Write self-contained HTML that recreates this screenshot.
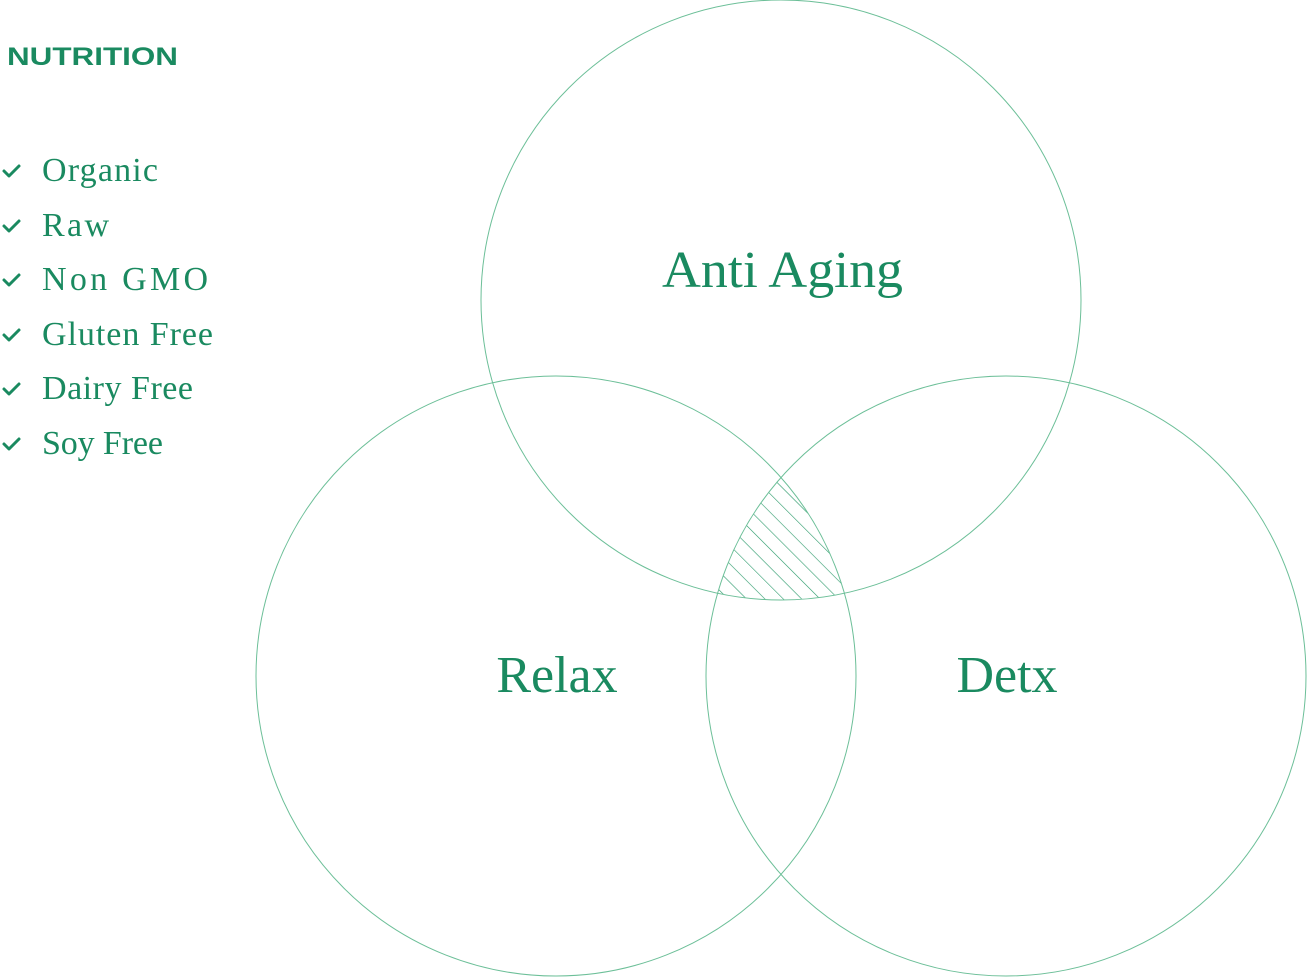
<!DOCTYPE html>
<html><head><meta charset="utf-8"><style>
html,body{margin:0;padding:0;background:#fff;width:1309px;height:977px;overflow:hidden}
</style></head><body>
<svg width="1309" height="977" viewBox="0 0 1309 977" xmlns="http://www.w3.org/2000/svg">
<defs>
<pattern id="h" patternUnits="userSpaceOnUse" width="13" height="13" patternTransform="rotate(-45)">
<line x1="0" y1="0" x2="0" y2="13" stroke="#2a9a6a" stroke-width="1.2"/>
</pattern>
<clipPath id="cA"><circle cx="781" cy="300" r="300"/></clipPath>
<clipPath id="cB"><circle cx="556" cy="676" r="300"/></clipPath>
</defs>
<g clip-path="url(#cA)"><g clip-path="url(#cB)">
<circle cx="1006" cy="676" r="300" fill="url(#h)"/>
</g></g>
<g fill="none" stroke="#6cbf98" stroke-width="1">
<circle cx="781" cy="300" r="300"/>
<circle cx="556" cy="676" r="300"/>
<circle cx="1006" cy="676" r="300"/>
</g>
<g fill="#1a8a60" font-family="Liberation Serif, serif">
<text x="662" y="287" font-size="52" textLength="241" lengthAdjust="spacingAndGlyphs">Anti Aging</text>
<text x="557" y="692" font-size="52" text-anchor="middle">Relax</text>
<text x="1007" y="692" font-size="52" text-anchor="middle">Detx</text>
<g font-size="34" lengthAdjust="spacingAndGlyphs">
<text x="42" y="181" textLength="116">Organic</text>
<text x="42" y="236" textLength="67">Raw</text>
<text x="42" y="290" textLength="166">Non GMO</text>
<text x="42" y="345" textLength="171">Gluten Free</text>
<text x="42" y="399" textLength="151">Dairy Free</text>
<text x="42" y="454" textLength="121">Soy Free</text>
</g>
</g>
<text x="7" y="65" fill="#1a8a60" font-family="Liberation Sans, sans-serif" font-size="25" font-weight="bold" textLength="171" lengthAdjust="spacingAndGlyphs">NUTRITION</text>
<g fill="none" stroke="#1a8a60" stroke-width="3" stroke-linecap="round" stroke-linejoin="round">
<path d="M4 171 l5 5 l10 -10"/>
<path d="M4 226 l5 5 l10 -10"/>
<path d="M4 280 l5 5 l10 -10"/>
<path d="M4 335 l5 5 l10 -10"/>
<path d="M4 389 l5 5 l10 -10"/>
<path d="M4 444 l5 5 l10 -10"/>
</g>
</svg>
</body></html>
